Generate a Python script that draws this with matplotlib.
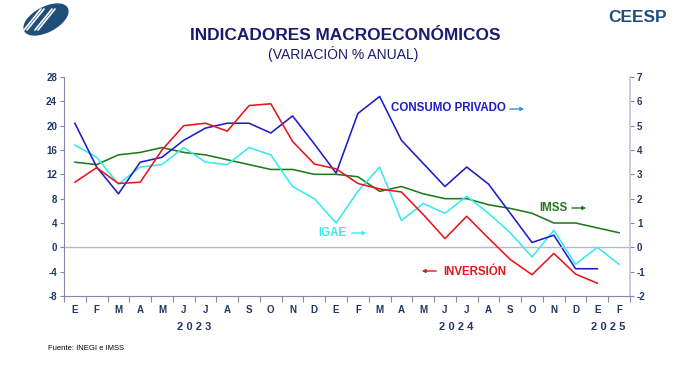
import numpy as np
import matplotlib
matplotlib.use("Agg")
import matplotlib.pyplot as plt
from matplotlib.patches import Ellipse
from matplotlib import font_manager

months = ['E','F','M','A','M','J','J','A','S','O','N','D',
          'E','F','M','A','M','J','J','A','S','O','N','D','E','F']
years = ['2023', '2024', '2025']

# Left axis (% anual)
inversion = [10.7, 13.1, 10.5, 10.7, 16.0, 20.0, 20.4, 19.1, 23.3, 23.6, 17.4, 13.7, 12.9,
             10.5, 9.6, 9.1, 5.4, 1.45, 5.1, 1.5, -2.0, -4.5, -1.0, -4.4, -5.9, np.nan]
# Right axis (% anual)
consumo = [5.1, 3.3, 2.2, 3.5, 3.7, 4.4, 4.9, 5.1, 5.1, 4.7, 5.4, 4.25, 3.05,
           5.5, 6.2, 4.4, 3.45, 2.5, 3.3, 2.6, 1.4, 0.2, 0.5, -0.88, -0.88, np.nan]
igae = [4.2, 3.7, 2.6, 3.3, 3.4, 4.1, 3.5, 3.4, 4.1, 3.8, 2.5, 2.0, 1.0,
        2.3, 3.3, 1.1, 1.8, 1.4, 2.1, 1.4, 0.6, -0.4, 0.7, -0.7, 0.0, -0.7]
imss = [3.5, 3.4, 3.8, 3.9, 4.1, 3.9, 3.8, 3.6, 3.4, 3.2, 3.2, 3.0, 3.0,
        2.9, 2.3, 2.5, 2.2, 2.0, 2.0, 1.75, 1.6, 1.4, 1.0, 1.0, 0.8, 0.6]

left_ticks = [-8, -4, 0, 4, 8, 12, 16, 20, 24, 28]
right_ticks = [-2, -1, 0, 1, 2, 3, 4, 5, 6, 7]

C_CONS = '#1c1cc8'
C_INV = '#e8161c'
C_IGAE = '#3ae8f0'
C_IMSS = '#1e7a1e'
NAVY = '#1f3864'
TITLE = '#1a1a6e'
SPINE = '#8a84a8'

names = {f.name for f in font_manager.fontManager.ttflist}
NARROW = 'Liberation Sans Narrow' if 'Liberation Sans Narrow' in names else 'Liberation Sans'

fig = plt.figure(figsize=(6.86, 3.66), dpi=100)
ax = fig.add_axes([64/686, 1-296/366, (630-64)/686, (296-77)/366])
ax2 = ax.twinx()

x = np.arange(len(months))
LW = 1.15
ax.plot(x, inversion, color=C_INV, lw=LW, zorder=3)
ax2.plot(x, imss, color=C_IMSS, lw=LW, zorder=2)
ax2.plot(x, igae, color=C_IGAE, lw=LW, zorder=3)
ax2.plot(x, consumo, color=C_CONS, lw=LW, zorder=4)

ax.set_xlim(-0.5, len(months) - 0.5)
ax.set_ylim(-8, 28)
ax2.set_ylim(-2, 7)
ax.axhline(0, color='#aebbd0', lw=1.0, zorder=1)

ax.set_yticks(left_ticks)
ax.set_yticklabels([str(v) for v in left_ticks])
ax2.set_yticks(right_ticks)
ax2.set_yticklabels([str(v) for v in right_ticks])
for a in (ax, ax2):
    a.tick_params(axis='y', labelsize=7, colors=SPINE, labelcolor=NAVY, length=3, width=0.8, pad=2)
    for lab in a.get_yticklabels():
        lab.set_fontweight('bold')
        lab.set_family('Liberation Sans')

ax.set_xticks(np.arange(-0.5, len(months), 1.0))
ax.set_xticklabels([])
ax.tick_params(axis='x', colors=SPINE, length=4, width=0.8)
for i, m in enumerate(months):
    ax.text(i, -0.065, m, transform=ax.get_xaxis_transform(), ha='center', va='center',
            fontsize=7, fontweight='bold', color=NAVY, family='Liberation Sans')
for xpos, yr in zip([5.5, 17.5, 24.5], years):
    ax.text(xpos, -0.14, ' '.join(yr), transform=ax.get_xaxis_transform(), ha='center',
            va='center', fontsize=8, fontweight='bold', color=NAVY, family='Liberation Sans')

for a in (ax, ax2):
    a.spines['top'].set_visible(False)
ax.spines['left'].set_color(SPINE)
ax.spines['bottom'].set_color(SPINE)
ax.spines['right'].set_visible(False)
ax2.spines['left'].set_visible(False)
ax2.spines['bottom'].set_visible(False)
ax2.spines['right'].set_color('#c4c0d8')
ax2.spines['right'].set_linewidth(1.2)
ax.set_zorder(ax2.get_zorder() + 1)
ax.patch.set_visible(False)

# Series labels
def px(xp, yp):
    return xp / 686, 1 - yp / 366

kw = dict(fontsize=8.3, fontweight='bold', family='Liberation Sans', va='center')
fig.text(*px(391, 108), 'CONSUMO PRIVADO', color=C_CONS, ha='left', **kw)
fig.text(*px(539, 208), 'IMSS', color=C_IMSS, ha='left', **kw)
fig.text(*px(318, 233), 'IGAE', color=C_IGAE, ha='left', **kw)
fig.text(*px(443, 272), 'INVERSIÓN', color=C_INV, ha='left', **kw)

def arrow(x0, x1, y, color):
    fig.add_artist(matplotlib.patches.FancyArrowPatch(
        px(x0, y), px(x1, y), transform=fig.transFigure, arrowstyle='-|>',
        mutation_scale=5, color=color, lw=1.0))

arrow(507, 527, 109, '#3a8fd0')
arrow(569, 589, 208, C_IMSS)
arrow(349, 369, 233, C_IGAE)
arrow(439, 419, 271, C_INV)

# Titles
fig.text(*px(345, 35), 'INDICADORES MACROECONÓMICOS', ha='center', va='center',
         fontsize=12.4, fontweight='bold', color=TITLE, family=NARROW)
fig.text(*px(343, 54), '(VARIACIÓN % ANUAL)', ha='center', va='center',
         fontsize=10, color=TITLE, family=NARROW)
fig.text(*px(638, 18), 'CEESP', ha='center', va='center', fontsize=12.5,
         fontweight='bold', color='#1f4e79', family='Liberation Sans')
fig.text(*px(48, 348), 'Fuente: INEGI e IMSS', ha='left', va='center', fontsize=5.5,
         color='black', family=NARROW)

# Logo
lax = fig.add_axes([18/686, 1-36/366, 56/686, 33/366])
lax.set_xlim(0, 56)
lax.set_ylim(0, 33)
lax.set_aspect('equal')
lax.axis('off')
lax.add_patch(Ellipse((28, 16.5), 48, 24, angle=28, color='#1f4e79'))
for off in (-8, -5, 3, 6):
    lax.plot([14 + off, 31 + off], [6, 27], color='white', lw=1.2, solid_capstyle='round')

fig.savefig('out.png', dpi=100)
